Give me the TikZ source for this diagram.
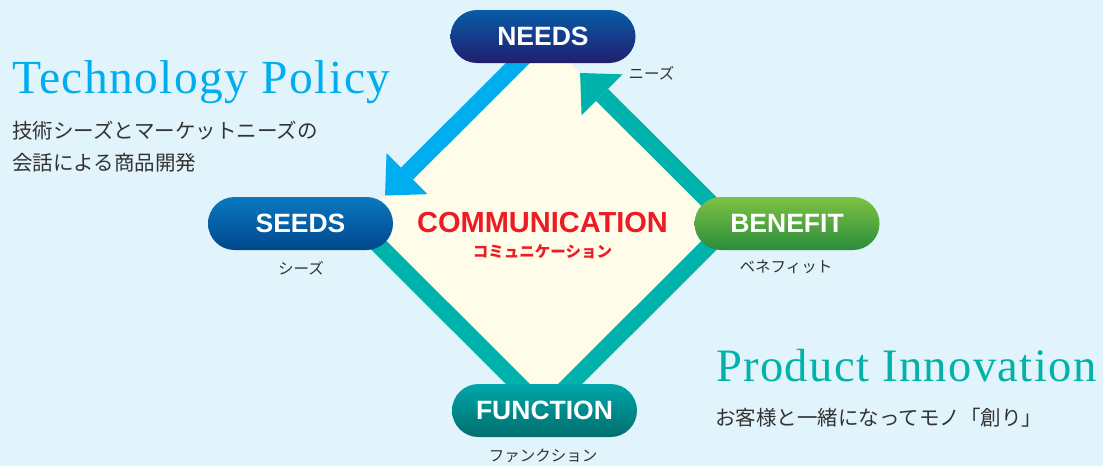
\documentclass[tikz,border=0pt]{standalone}
\usepackage{fontspec}
\newfontfamily\arialf{Liberation Sans}
\newfontfamily\seriff{Liberation Serif}[LetterSpace=3]
\newfontfamily\jpf{Noto Sans CJK JP}
\usetikzlibrary{arrows.meta,calc}
\definecolor{bgc}{HTML}{E1F3FB}
\definecolor{creamc}{HTML}{FFFCE9}
\definecolor{tealc}{HTML}{00B2AC}
\definecolor{bluec}{HTML}{00AEEF}
\definecolor{grayc}{HTML}{333333}
\definecolor{redc}{HTML}{ED1C24}
\definecolor{prodc}{HTML}{00B2A9}
\definecolor{needsT}{HTML}{075CA7}
\definecolor{needsB}{HTML}{221E6E}
\definecolor{seedsT}{HTML}{0A78C0}
\definecolor{seedsB}{HTML}{00478C}
\definecolor{benT}{HTML}{7DC243}
\definecolor{benB}{HTML}{2A8C3C}
\definecolor{funT}{HTML}{00A6AA}
\definecolor{funB}{HTML}{006E6C}
\tikzset{
  pill/.style={rectangle, rounded corners=26.5pt, minimum width=185pt, minimum height=53pt,
    inner sep=0pt, text=white, font=\arialf\bfseries\fontsize{26.5}{30}\selectfont},
  conn/.style={line width=17pt, line cap=butt},
  tip/.style={-{Triangle[width=58pt,length=31pt,line width=0pt]}},
  lbl/.style={inner sep=0pt, text=grayc, font=\jpf\fontsize{15.5}{18}\selectfont},
  body/.style={anchor=west, inner sep=0pt, text=grayc, font=\jpf\fontsize{20.5}{24}\selectfont},
  title/.style={anchor=base west, inner sep=0pt}
}
\begin{document}
\begin{tikzpicture}[x=1pt,y=-1pt]
\fill[bgc] (0,0) rectangle (1103,466);
\useasboundingbox (0,0) rectangle (1103,466);
\coordinate (T) at (544,37);
\coordinate (R) at (731,223.5);
\coordinate (B) at (544,410);
\coordinate (L) at (357,223.5);
\coordinate (tipL) at ($(T)!0.85!(L)$);
\coordinate (tipT) at ($(R)!0.807!(T)$);
\fill[creamc] (T) -- (R) -- (B) -- (L) -- cycle;
\draw[conn, tealc] (L) -- (B);
\draw[conn, tealc] (B) -- (R);
\draw[conn, tealc, tip] (R) -- (tipT);
\draw[conn, bluec, tip] (T) -- (tipL);
\node[pill, top color=needsT, bottom color=needsB] (needs) at (543,36.5) {NEEDS};
\node[pill, top color=seedsT, bottom color=seedsB] (seeds) at (300.5,223.5) {SEEDS};
\node[pill, top color=benT, bottom color=benB] (benefit) at (787,223.5) {BENEFIT};
\node[pill, top color=funT, bottom color=funB] (function) at (544.5,410.5) {FUNCTION};
\node[lbl] (needsj) at (651.5,73) {ニーズ};
\node[lbl] (seedsj) at (301,268) {シーズ};
\node[lbl] (benefitj) at (786,267) {ベネフィット};
\node[lbl] (functionj) at (543,456) {ファンクション};
\node[inner sep=0pt, text=redc, font=\arialf\bfseries\fontsize{29}{32}\selectfont] (comm) at (542.5,222.2) {COMMUNICATION};
\node[inner sep=0pt, text=redc, font=\jpf\bfseries\fontsize{15.5}{18}\selectfont] (commj) at (542.5,251.7) {コミュニケーション};
\node[title, text=bluec, font=\seriff\fontsize{47.5}{52}\selectfont] (tp) at (12,93.3) {Technology Policy};
\node[body] (jp1) at (12,131) {技術シーズとマーケットニーズの};
\node[body] (jp2) at (12,163) {会話による商品開発};
\node[title, text=prodc, font=\seriff\fontsize{46.5}{52}\selectfont] (pi) at (716,381.7) {Product Innovation};
\node[body] (jp3) at (715,418) {お客様と一緒になってモノ「創り」};
\end{tikzpicture}
\end{document}
